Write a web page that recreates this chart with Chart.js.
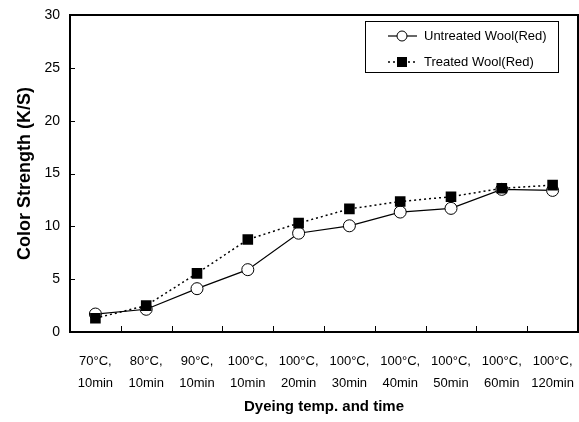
<!DOCTYPE html>
<html>
<head>
<meta charset="utf-8">
<script src="https://cdn.jsdelivr.net/npm/chart.js@4.4.1/dist/chart.umd.min.js"></script>
<style>
  html, body { margin: 0; padding: 0; background: #fff; }
  #wrap { width: 579px; height: 422px; }
</style>
</head>
<body>
<div id="wrap"><canvas id="chart" width="579" height="422"></canvas></div>
<script>
const temps = ['70°C,', '80°C,', '90°C,', '100°C,', '100°C,', '100°C,', '100°C,', '100°C,', '100°C,', '100°C,'];
const times = ['10min', '10min', '10min', '10min', '20min', '30min', '40min', '50min', '60min', '120min'];
const untreated = [1.7, 2.15, 4.1, 5.9, 9.35, 10.05, 11.35, 11.7, 13.5, 13.4];
const treated = [1.3, 2.5, 5.55, 8.75, 10.3, 11.65, 12.35, 12.8, 13.6, 13.9];
const seriesNames = ['Untreated Wool(Red)', 'Treated Wool(Red)'];

const FONT = "'Liberation Sans', Arial, sans-serif";

// box round the plot and inward tick marks
const framePlugin = {
  id: 'frame',
  beforeDatasetsDraw(chart) {
    const { ctx, chartArea: a, scales } = chart;
    ctx.save();
    ctx.strokeStyle = '#000';
    ctx.lineWidth = 2;
    ctx.strokeRect(a.left, a.top, a.right - a.left, a.bottom - a.top);

    ctx.lineWidth = 1;
    ctx.beginPath();
    scales.y.ticks.forEach(t => {
      if (t.value <= 0 || t.value >= 30) return;
      const y = Math.round(scales.y.getPixelForValue(t.value)) + 0.5;
      ctx.moveTo(a.left, y);
      ctx.lineTo(a.left + 5, y);
    });
    for (let i = 0; i < temps.length - 1; i++) {
      const x = Math.round((scales.x.getPixelForValue(i) + scales.x.getPixelForValue(i + 1)) / 2) + 0.5;
      ctx.moveTo(x, a.bottom);
      ctx.lineTo(x, a.bottom - 6);
    }
    ctx.stroke();
    ctx.restore();
  }
};

// legend box inside the plot, top right
const legendPlugin = {
  id: 'boxLegend',
  afterDraw(chart) {
    const { ctx, chartArea: a } = chart;
    const w = 193, h = 51;
    const right = a.right - 20, top = a.top + 6;
    const x0 = right - w;
    ctx.save();
    ctx.fillStyle = '#fff';
    ctx.fillRect(x0, top, w, h);
    ctx.strokeStyle = '#000';
    ctx.lineWidth = 1;
    ctx.strokeRect(x0 + 0.5, top + 0.5, w, h);

    const rows = [top + 15, top + 41];
    chart.data.datasets.forEach((ds, i) => {
      const y = rows[i];
      ctx.beginPath();
      ctx.setLineDash(ds.borderDash || []);
      ctx.lineWidth = ds.borderWidth;
      ctx.moveTo(x0 + 23, y);
      ctx.lineTo(x0 + 52, y);
      ctx.stroke();
      ctx.setLineDash([]);
      const px = x0 + 37;
      if (ds.pointStyle === 'rect') {
        ctx.fillStyle = '#000';
        ctx.fillRect(px - 5, y - 5, 10, 10);
      } else {
        ctx.beginPath();
        ctx.arc(px, y, 5, 0, Math.PI * 2);
        ctx.fillStyle = '#fff';
        ctx.fill();
        ctx.lineWidth = 1;
        ctx.stroke();
      }
      ctx.fillStyle = '#000';
      ctx.font = '13px ' + FONT;
      ctx.textBaseline = 'middle';
      ctx.textAlign = 'left';
      ctx.fillText(ds.label, x0 + 59, y);
    });
    ctx.restore();
  }
};

new Chart(document.getElementById('chart'), {
  type: 'line',
  data: {
    labels: temps.map((t, i) => [t, times[i]]),
    datasets: [
      {
        label: seriesNames[0],
        data: untreated,
        borderColor: '#000',
        borderWidth: 1.2,
        pointStyle: 'circle',
        pointRadius: 6,
        pointBackgroundColor: '#fff',
        pointBorderColor: '#000',
        pointBorderWidth: 1,
        tension: 0,
        order: 1
      },
      {
        label: seriesNames[1],
        data: treated,
        borderColor: '#000',
        borderWidth: 1.5,
        borderDash: [2, 3],
        pointStyle: 'rect',
        pointRadius: 7.5,
        pointBackgroundColor: '#000',
        pointBorderColor: '#000',
        pointBorderWidth: 0,
        tension: 0,
        order: 0
      }
    ]
  },
  options: {
    responsive: false,
    animation: false,
    layout: { autoPadding: false, padding: { top: 15, right: 1, left: 0, bottom: 0 } },
    plugins: {
      legend: { display: false },
      tooltip: { enabled: false }
    },
    scales: {
      x: {
        offset: true,
        grid: { display: false, drawTicks: false },
        border: { display: false },
        ticks: {
          color: '#000',
          padding: 18,
          maxRotation: 0,
          autoSkip: false,
          font: { family: FONT, size: 13, lineHeight: '22px' }
        },
        title: {
          display: true,
          text: 'Dyeing temp. and time',
          color: '#000',
          padding: { top: 0, bottom: 6 },
          font: { family: FONT, size: 15, weight: 'bold', lineHeight: 1.2 }
        },
        afterFit(scale) {
          scale.height = 90;
          scale.paddingLeft = 0;
          scale.paddingRight = 0;
        }
      },
      y: {
        min: 0,
        max: 30,
        grid: { display: false, drawTicks: false },
        border: { display: false },
        ticks: {
          stepSize: 5,
          color: '#000',
          padding: 10,
          font: { family: FONT, size: 14 }
        },
        title: {
          display: true,
          text: 'Color Strength (K/S)',
          color: '#000',
          padding: { top: 14, bottom: 0 },
          font: { family: FONT, size: 18, weight: 'bold', lineHeight: 1.2 }
        },
        afterFit(scale) {
          scale.width = 70;
          scale.paddingTop = 0;
          scale.paddingBottom = 0;
        }
      }
    }
  },
  plugins: [framePlugin, legendPlugin]
});
</script>
</body>
</html>
